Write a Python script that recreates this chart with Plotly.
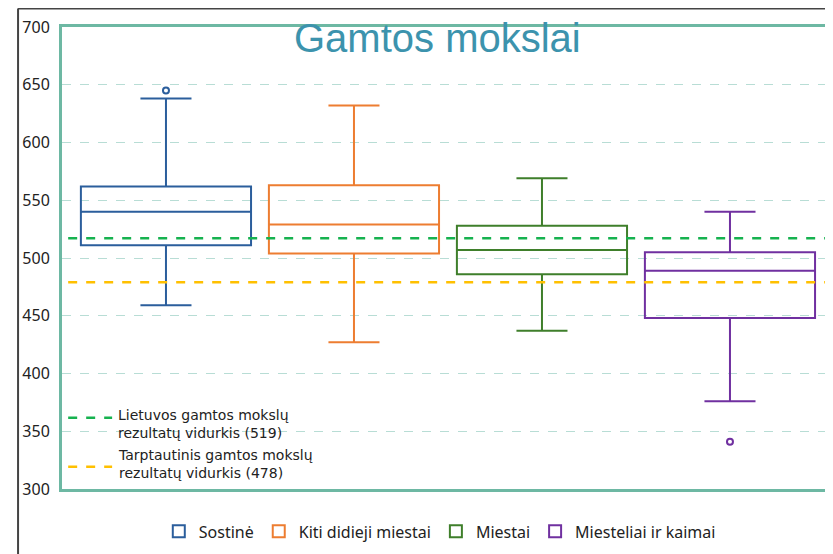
import plotly.graph_objects as go

GROUPS = ["Sostinė", "Kiti didieji miestai", "Miestai", "Miesteliai ir kaimai"]
COLORS = ["#2b5e9c", "#ed7d31", "#3f7f2b", "#7030a0"]
LOWER = [459, 427, 437, 376]
Q1 = [511, 504, 486, 448]
MEDIAN = [540, 529, 507, 489]
Q3 = [562, 563, 528, 505]
UPPER = [638, 632, 569, 540]
OUTLIER_GROUP = [0, 3]
OUTLIER_VALUE = [645, 341]

LT_AVG = 517
INT_AVG = 479
LT_LABEL = "Lietuvos gamtos mokslų<br>rezultatų vidurkis (519)"
INT_LABEL = "Tarptautinis gamtos mokslų<br>rezultatų vidurkis (478)"

fig = go.Figure()
for i, name in enumerate(GROUPS):
    fig.add_trace(go.Box(
        name=name,
        x=[i],
        q1=[Q1[i]], median=[MEDIAN[i]], q3=[Q3[i]],
        lowerfence=[LOWER[i]], upperfence=[UPPER[i]],
        width=0.905,
        whiskerwidth=0.3,
        line=dict(color=COLORS[i], width=2),
        fillcolor="rgba(255,255,255,0)",
        boxpoints=False,
        hoverinfo="skip",
    ))

fig.add_trace(go.Scatter(
    x=OUTLIER_GROUP, y=OUTLIER_VALUE, mode="markers", showlegend=False,
    marker=dict(symbol="circle-open", size=6,
                color=[COLORS[g] for g in OUTLIER_GROUP], line=dict(width=2)),
))

# average reference lines
for val, col in [(LT_AVG, "#16b24f"), (INT_AVG, "#ffc000")]:
    fig.add_shape(type="line", xref="paper", yref="y", x0=0.008, x1=1, y0=val, y1=val,
                  line=dict(color=col, width=2.5, dash="dash"))

# in-plot legend for reference lines
for ypos, typos, col, txt in [(0.154, 0.14, "#16b24f", LT_LABEL),
                              (0.048, 0.054, "#ffc000", INT_LABEL)]:
    fig.add_shape(type="line", xref="paper", yref="paper", x0=0.008, x1=0.065,
                  y0=ypos, y1=ypos, line=dict(color=col, width=2.5, dash="dash"))
    fig.add_annotation(xref="paper", yref="paper", x=0.07, y=typos,
                       text=txt, showarrow=False, xanchor="left", yanchor="middle",
                       align="left", font=dict(family="DejaVu Sans", size=14, color="#222"))

# outer frame
fig.add_shape(type="line", xref="paper", yref="paper", x0=-0.057, x1=1.1, y0=1.04, y1=1.04,
              line=dict(color="#444", width=2))
fig.add_shape(type="line", xref="paper", yref="paper", x0=-0.057, x1=-0.057, y0=1.04, y1=-0.3,
              line=dict(color="#444", width=2))

fig.add_annotation(xref="paper", yref="paper", x=0.487, y=0.977, text="Gamtos mokslai",
                   showarrow=False, xanchor="center", yanchor="middle",
                   font=dict(family="Liberation Sans", size=40, color="#3c93ad"))

# page body has an 8px margin, so the figure is shifted and sized to fit
fig.update_layout(
    width=825, height=546,
    margin=dict(l=54, r=0, t=19, b=65),
    plot_bgcolor="white", paper_bgcolor="white",
    font=dict(family="Noto Sans", color="#222"),
    showlegend=True,
    legend=dict(orientation="h", x=0.49, xanchor="center", y=-0.055, yanchor="top",
                font=dict(size=16), itemwidth=30, tracegroupgap=0),
    xaxis=dict(range=[-0.553, 3.548], showticklabels=False, showgrid=False, zeroline=False,
               showline=True, mirror=True, linecolor="#6db8a3", linewidth=3, ticks=""),
    yaxis=dict(range=[300, 700], dtick=50, showgrid=True, gridcolor="#b8ddd5", griddash="dash",
               gridwidth=1, zeroline=False, showline=True, linecolor="#6db8a3", linewidth=3,
               tickfont=dict(size=16, color="#222"), ticklabelstandoff=6),
)

fig.write_html("out.html")
